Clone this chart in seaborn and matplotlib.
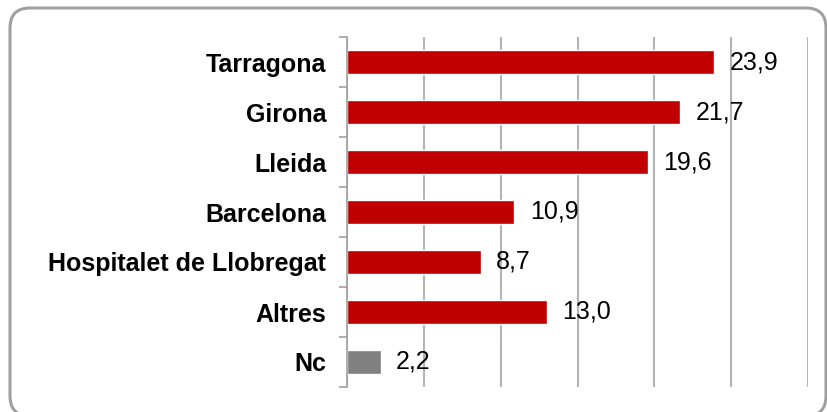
import matplotlib
matplotlib.use("Agg")
import matplotlib.pyplot as plt
import seaborn as sns
import pandas as pd
from matplotlib.patches import FancyBboxPatch
from matplotlib.ticker import FixedLocator, MultipleLocator

categories = ["Tarragona", "Girona", "Lleida", "Barcelona",
              "Hospitalet de Llobregat", "Altres", "Nc"]
values = [23.9, 21.7, 19.6, 10.9, 8.7, 13.0, 2.2]
value_labels = ["23,9", "21,7", "19,6", "10,9", "8,7", "13,0", "2,2"]
bar_colors = ["#C00000"] * 6 + ["#808080"]

sns.set_theme(style="white")
plt.rcParams["font.family"] = ["Liberation Sans", "DejaVu Sans"]

df = pd.DataFrame({"cat": categories, "val": values})

fig = plt.figure(figsize=(8.27, 4.12), dpi=100)
ax = fig.add_axes([347 / 827, 1 - 387 / 412, (808 - 347) / 827, 350 / 412])

sns.barplot(data=df, y="cat", x="val", order=categories, hue="cat",
            palette=dict(zip(categories, bar_colors)), legend=False,
            width=0.47, ax=ax, saturation=1, orient="h")

ax.set_xlim(0, 30)
ax.set_ylim(6.5, -0.5)
ax.xaxis.set_major_locator(MultipleLocator(5))
ax.grid(axis="x", color="#b4b4b4", linewidth=1.5)
ax.set_axisbelow(True)
ax.set_xticklabels([])
ax.tick_params(axis="x", length=0)
ax.set_xlabel("")
ax.set_ylabel("")

ax.yaxis.set_minor_locator(FixedLocator([i - 0.5 for i in range(8)]))
ax.tick_params(axis="y", which="minor", length=6, width=1.2, color="#a0a0a0", left=True)
ax.tick_params(axis="y", which="major", length=0, pad=15)
for lab in ax.get_yticklabels():
    lab.set_fontweight("bold")
    lab.set_fontsize(18)
    lab.set_color("black")

for s in ["top", "right", "bottom"]:
    ax.spines[s].set_visible(False)
ax.spines["left"].set_color("#a0a0a0")
ax.spines["left"].set_linewidth(1.2)

for i, (v, t) in enumerate(zip(values, value_labels)):
    ax.annotate(t, xy=(v, i), xytext=(11, 0), textcoords="offset points",
                va="center", ha="left", fontsize=18, color="black")

box = FancyBboxPatch((10, -4), 816, 408, boxstyle="round,pad=0,rounding_size=20",
                     transform=None, facecolor="none", edgecolor="#a0a0a0",
                     linewidth=2.2, zorder=-1)
fig.patches.append(box)

fig.savefig("out.png", dpi=100)
